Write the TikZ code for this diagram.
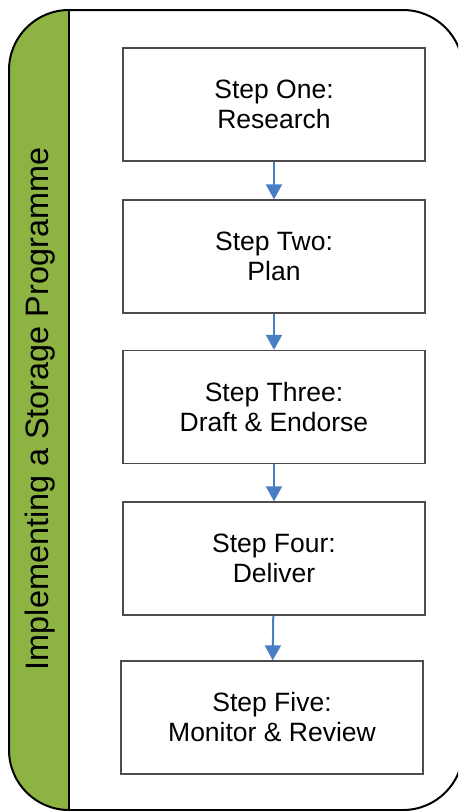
\documentclass[tikz,border=0pt]{standalone}
\usepackage{fontspec}
\setmainfont{Liberation Sans}
\usetikzlibrary{arrows.meta}
\definecolor{bandgreen}{RGB}{141,180,66}
\definecolor{linkblue}{RGB}{74,126,195}
\begin{document}
\begin{tikzpicture}[x=1pt, y=-1pt,
    stepbox/.style={draw=black!70, line width=1.3pt, fill=white, minimum width=302pt,
      minimum height=113pt, inner sep=0pt, align=center, font=\fontsize{26.5}{30}\selectfont},
    link/.style={draw=linkblue, line width=2pt, -{Triangle[width=16pt, length=15pt]}}]

    \useasboundingbox (0,0) rectangle (458,811);
    \clip (0,0) rectangle (458,811);

    % Frame and green band
    \begin{scope}
      \clip[rounded corners=60pt] (9,10) rectangle (463,810);
      \fill[white] (9,10) rectangle (463,810);
      \fill[bandgreen] (9,10) rectangle (69,810);
    \end{scope}
    \draw[line width=2pt] (69,10) -- (69,810);
    \draw[line width=2pt, rounded corners=60pt] (9,10) rectangle (463,810);

    \node[rotate=90, font=\fontsize{32.4}{32.4}\selectfont] (title) at (40,409) {Implementing a Storage Programme};

    % Steps
    \node[stepbox] (one) at (274,104.5) {Step One:\\Research};
    \node[stepbox] (two) at (274,256.5) {Step Two:\\Plan};
    \node[stepbox] (three) at (274,407) {Step Three:\\Draft \& Endorse};
    \node[stepbox] (four) at (274,558.5) {Step Four:\\Deliver};
    \node[stepbox] (five) at (272,717.5) {Step Five:\\Monitor \& Review};

    % Arrows
    \draw[link] (one) -- (two);
    \draw[link] (two) -- (three);
    \draw[link] (three) -- (four);
    \draw[link] (four) -- (five);

\end{tikzpicture}
\end{document}
